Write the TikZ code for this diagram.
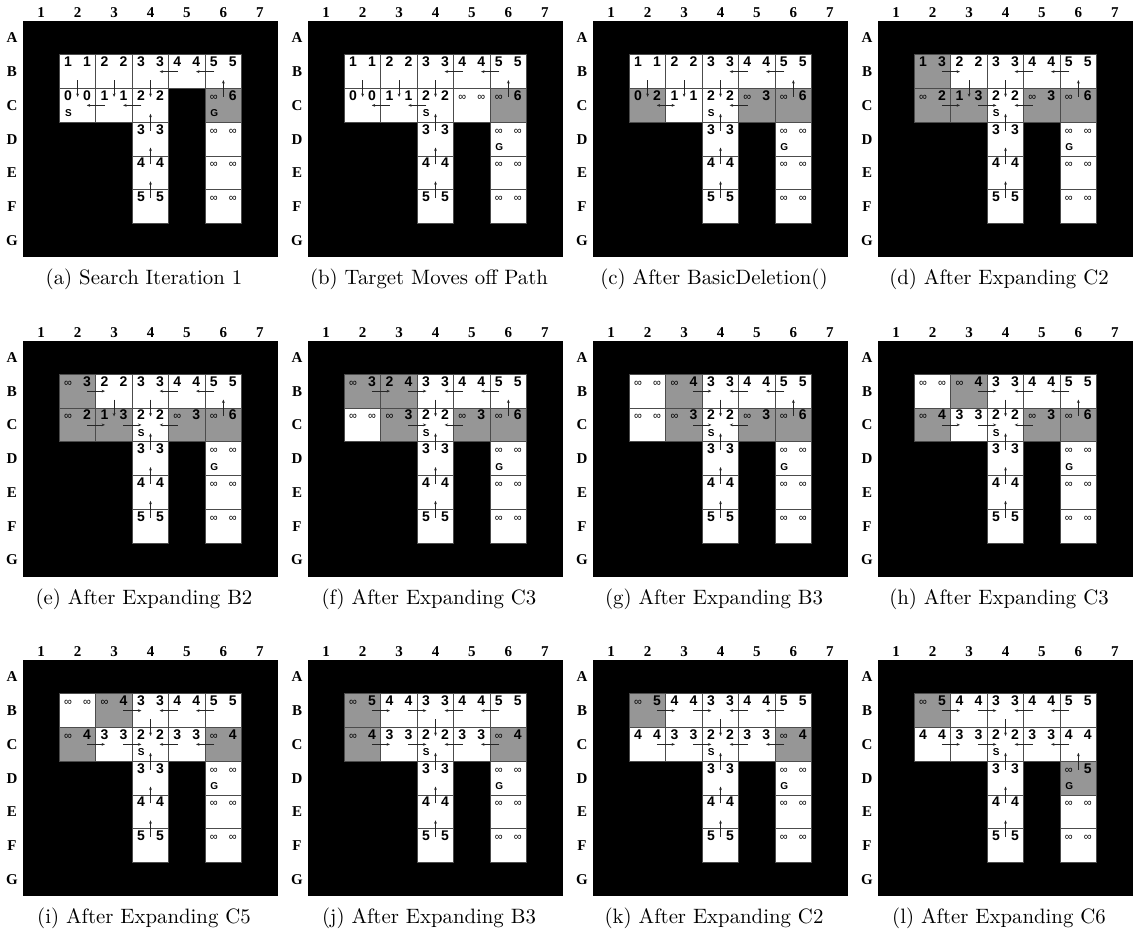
\documentclass[tikz,border=0pt]{standalone}
\usepackage{fontspec}
\usetikzlibrary{calc,arrows.meta}
\newfontfamily\valfont{Liberation Sans}
\newfontfamily\lblfont{Liberation Serif}
\definecolor{cg}{RGB}{150,150,150}
\newcommand\infy{{\fontsize{11}{11}\selectfont\mdseries ∞}}
\tikzset{
  cellbox/.style={draw=black!70, line width=0.9pt, minimum width=36.43pt, minimum height=33.75pt, inner sep=0pt, outer sep=0pt},
  bgbox/.style={fill=black, minimum width=255pt, minimum height=236pt, inner sep=0pt, outer sep=0pt},
  valtxt/.style={font=\valfont\fontsize{14}{14}\selectfont\bfseries, inner sep=0pt, anchor=base},
  labtxt/.style={font=\valfont\fontsize{10}{10}\selectfont\bfseries, inner sep=0pt},
  collbl/.style={font=\lblfont\fontsize{15}{15}\selectfont\bfseries, inner sep=0pt},
  captxt/.style={font=\rmfamily\fontsize{10}{12}\selectfont, inner sep=0pt},
  parr/.style={-{Stealth[length=3.4pt,width=2.8pt]}, line width=0.6pt, draw=black!85},
  dparr/.style={{Stealth[length=3.4pt,width=2.8pt]}-{Stealth[length=3.4pt,width=2.8pt]}, line width=0.6pt, draw=black!85}
}
\newcommand\panel[4]{%
  \def\pp{#1}\def\X{#2}\def\Y{#3}%
  \node[bgbox] (#1bg) at (#2+127.5,#3+118) {};
  \foreach \ci in {1,...,7} {\node[collbl] (#1col\ci) at ({#2+(\ci-0.5)*36.43},#3-8) {\ci};}
  \foreach \ri/\rl in {1/A,2/B,3/C,4/D,5/E,6/F,7/G} {\node[collbl] (#1row\rl) at (#2-11,{#3+(\ri-0.5)*33.75}) {\rl};}
  \node[captxt] (#1cap) at (#2+121,#3+258.5) {\scalebox{2.08}{(#1) #4}};
}
\newcommand\cell[7]{%
  \node[cellbox,fill=#4] (\pp#1) at ({\X+(#3-0.5)*36.43},{\Y+(#2-0.5)*33.75}) {};
  \node[valtxt] (\pp#1g) at ($(\pp#1)+(-9.6,-4.9)$) {#5};
  \node[valtxt] (\pp#1r) at ($(\pp#1)+(9.4,-4.9)$) {#6};
  \node[labtxt] (\pp#1s) at ($(\pp#1)+(-9.2,8.1)$) {#7};
}
\newcommand\arr[2]{\draw[parr] ($(\pp#1)!0.25!(\pp#2)$) -- ($(\pp#1)!0.75!(\pp#2)$);}
\newcommand\darr[2]{\draw[dparr] ($(\pp#1)!0.25!(\pp#2)$) -- ($(\pp#1)!0.75!(\pp#2)$);}
\newcommand\basecells{%
  \cell{B4}{2}{4}{white}{3}{3}{}%
  \cell{B5}{2}{5}{white}{4}{4}{}%
  \cell{B6}{2}{6}{white}{5}{5}{}%
  \cell{D4}{4}{4}{white}{3}{3}{}%
  \cell{E4}{5}{4}{white}{4}{4}{}%
  \cell{F4}{6}{4}{white}{5}{5}{}%
  \cell{E6}{5}{6}{white}{\infy}{\infy}{}%
  \cell{F6}{6}{6}{white}{\infy}{\infy}{}%
}
\newcommand\basearrows{\arr{B4}{C4}\arr{B5}{B4}\arr{B6}{B5}\arr{D4}{C4}\arr{E4}{D4}\arr{F4}{E4}}
\begin{document}
\begin{tikzpicture}[x=1pt,y=-1pt]
\useasboundingbox (0,0) rectangle (1133,940);
% (a)
\panel{a}{23}{21}{Search Iteration 1}
\basecells
\cell{B2}{2}{2}{white}{1}{1}{}
\cell{B3}{2}{3}{white}{2}{2}{}
\cell{C2}{3}{2}{white}{0}{0}{S}
\cell{C3}{3}{3}{white}{1}{1}{}
\cell{C4}{3}{4}{white}{2}{2}{}
\cell{C6}{3}{6}{cg}{\infy}{6}{G}
\cell{D6}{4}{6}{white}{\infy}{\infy}{}
\basearrows
\arr{B2}{C2}\arr{B3}{C3}\arr{C3}{C2}\arr{C4}{C3}\arr{C6}{B6}
% (b)
\panel{b}{308}{21}{Target Moves off Path}
\basecells
\cell{B2}{2}{2}{white}{1}{1}{}
\cell{B3}{2}{3}{white}{2}{2}{}
\cell{C2}{3}{2}{white}{0}{0}{}
\cell{C3}{3}{3}{white}{1}{1}{}
\cell{C4}{3}{4}{white}{2}{2}{S}
\cell{C5}{3}{5}{white}{\infy}{\infy}{}
\cell{C6}{3}{6}{cg}{\infy}{6}{}
\cell{D6}{4}{6}{white}{\infy}{\infy}{G}
\basearrows
\arr{B2}{C2}\arr{B3}{C3}\arr{C3}{C2}\arr{C4}{C3}\arr{C6}{B6}
% (c)
\panel{c}{593}{21}{After BasicDeletion()}
\basecells
\cell{B2}{2}{2}{white}{1}{1}{}
\cell{B3}{2}{3}{white}{2}{2}{}
\cell{C2}{3}{2}{cg}{0}{2}{}
\cell{C3}{3}{3}{white}{1}{1}{}
\cell{C4}{3}{4}{white}{2}{2}{S}
\cell{C5}{3}{5}{cg}{\infy}{3}{}
\cell{C6}{3}{6}{cg}{\infy}{6}{}
\cell{D6}{4}{6}{white}{\infy}{\infy}{G}
\basearrows
\arr{B2}{C2}\arr{B3}{C3}\darr{C2}{C3}\arr{C5}{C4}\arr{C6}{B6}
% (d)
\panel{d}{878}{21}{After Expanding C2}
\basecells
\cell{B2}{2}{2}{cg}{1}{3}{}
\cell{B3}{2}{3}{white}{2}{2}{}
\cell{C2}{3}{2}{cg}{\infy}{2}{}
\cell{C3}{3}{3}{cg}{1}{3}{}
\cell{C4}{3}{4}{white}{2}{2}{S}
\cell{C5}{3}{5}{cg}{\infy}{3}{}
\cell{C6}{3}{6}{cg}{\infy}{6}{}
\cell{D6}{4}{6}{white}{\infy}{\infy}{G}
\basearrows
\arr{B2}{B3}\arr{B3}{C3}\arr{C2}{C3}\arr{C3}{C4}\arr{C5}{C4}\arr{C6}{B6}
% (e)
\panel{e}{23}{340.5}{After Expanding B2}
\basecells
\cell{B2}{2}{2}{cg}{\infy}{3}{}
\cell{B3}{2}{3}{white}{2}{2}{}
\cell{C2}{3}{2}{cg}{\infy}{2}{}
\cell{C3}{3}{3}{cg}{1}{3}{}
\cell{C4}{3}{4}{white}{2}{2}{S}
\cell{C5}{3}{5}{cg}{\infy}{3}{}
\cell{C6}{3}{6}{cg}{\infy}{6}{}
\cell{D6}{4}{6}{white}{\infy}{\infy}{G}
\basearrows
\arr{B2}{B3}\arr{B3}{C3}\arr{C2}{C3}\arr{C3}{C4}\arr{C5}{C4}\arr{C6}{B6}
% (f)
\panel{f}{308}{340.5}{After Expanding C3}
\basecells
\cell{B2}{2}{2}{cg}{\infy}{3}{}
\cell{B3}{2}{3}{cg}{2}{4}{}
\cell{C2}{3}{2}{white}{\infy}{\infy}{}
\cell{C3}{3}{3}{cg}{\infy}{3}{}
\cell{C4}{3}{4}{white}{2}{2}{S}
\cell{C5}{3}{5}{cg}{\infy}{3}{}
\cell{C6}{3}{6}{cg}{\infy}{6}{}
\cell{D6}{4}{6}{white}{\infy}{\infy}{G}
\basearrows
\arr{B2}{B3}\arr{B3}{B4}\arr{C3}{C4}\arr{C5}{C4}\arr{C6}{B6}
% (g)
\panel{g}{593}{340.5}{After Expanding B3}
\basecells
\cell{B2}{2}{2}{white}{\infy}{\infy}{}
\cell{B3}{2}{3}{cg}{\infy}{4}{}
\cell{C2}{3}{2}{white}{\infy}{\infy}{}
\cell{C3}{3}{3}{cg}{\infy}{3}{}
\cell{C4}{3}{4}{white}{2}{2}{S}
\cell{C5}{3}{5}{cg}{\infy}{3}{}
\cell{C6}{3}{6}{cg}{\infy}{6}{}
\cell{D6}{4}{6}{white}{\infy}{\infy}{G}
\basearrows
\arr{B3}{B4}\arr{C3}{C4}\arr{C5}{C4}\arr{C6}{B6}
% (h)
\panel{h}{878}{340.5}{After Expanding C3}
\basecells
\cell{B2}{2}{2}{white}{\infy}{\infy}{}
\cell{B3}{2}{3}{cg}{\infy}{4}{}
\cell{C2}{3}{2}{cg}{\infy}{4}{}
\cell{C3}{3}{3}{white}{3}{3}{}
\cell{C4}{3}{4}{white}{2}{2}{S}
\cell{C5}{3}{5}{cg}{\infy}{3}{}
\cell{C6}{3}{6}{cg}{\infy}{6}{}
\cell{D6}{4}{6}{white}{\infy}{\infy}{G}
\basearrows
\arr{B3}{B4}\arr{C2}{C3}\arr{C3}{C4}\arr{C5}{C4}\arr{C6}{B6}
% (i)
\panel{i}{23}{660}{After Expanding C5}
\basecells
\cell{B2}{2}{2}{white}{\infy}{\infy}{}
\cell{B3}{2}{3}{cg}{\infy}{4}{}
\cell{C2}{3}{2}{cg}{\infy}{4}{}
\cell{C3}{3}{3}{white}{3}{3}{}
\cell{C4}{3}{4}{white}{2}{2}{S}
\cell{C5}{3}{5}{white}{3}{3}{}
\cell{C6}{3}{6}{cg}{\infy}{4}{}
\cell{D6}{4}{6}{white}{\infy}{\infy}{G}
\basearrows
\arr{B3}{B4}\arr{C2}{C3}\arr{C3}{C4}\arr{C5}{C4}\arr{C6}{C5}
% (j)
\panel{j}{308}{660}{After Expanding B3}
\basecells
\cell{B2}{2}{2}{cg}{\infy}{5}{}
\cell{B3}{2}{3}{white}{4}{4}{}
\cell{C2}{3}{2}{cg}{\infy}{4}{}
\cell{C3}{3}{3}{white}{3}{3}{}
\cell{C4}{3}{4}{white}{2}{2}{S}
\cell{C5}{3}{5}{white}{3}{3}{}
\cell{C6}{3}{6}{cg}{\infy}{4}{}
\cell{D6}{4}{6}{white}{\infy}{\infy}{G}
\basearrows
\arr{B2}{B3}\arr{B3}{B4}\arr{C2}{C3}\arr{C3}{C4}\arr{C5}{C4}\arr{C6}{C5}
% (k)
\panel{k}{593}{660}{After Expanding C2}
\basecells
\cell{B2}{2}{2}{cg}{\infy}{5}{}
\cell{B3}{2}{3}{white}{4}{4}{}
\cell{C2}{3}{2}{white}{4}{4}{}
\cell{C3}{3}{3}{white}{3}{3}{}
\cell{C4}{3}{4}{white}{2}{2}{S}
\cell{C5}{3}{5}{white}{3}{3}{}
\cell{C6}{3}{6}{cg}{\infy}{4}{}
\cell{D6}{4}{6}{white}{\infy}{\infy}{G}
\basearrows
\arr{B2}{B3}\arr{B3}{B4}\arr{C2}{C3}\arr{C3}{C4}\arr{C5}{C4}\arr{C6}{C5}
% (l)
\panel{l}{878}{660}{After Expanding C6}
\basecells
\cell{B2}{2}{2}{cg}{\infy}{5}{}
\cell{B3}{2}{3}{white}{4}{4}{}
\cell{C2}{3}{2}{white}{4}{4}{}
\cell{C3}{3}{3}{white}{3}{3}{}
\cell{C4}{3}{4}{white}{2}{2}{S}
\cell{C5}{3}{5}{white}{3}{3}{}
\cell{C6}{3}{6}{white}{4}{4}{}
\cell{D6}{4}{6}{cg}{\infy}{5}{G}
\basearrows
\arr{B2}{B3}\arr{B3}{B4}\arr{C2}{C3}\arr{C3}{C4}\arr{C5}{C4}\arr{C6}{C5}\arr{D6}{C6}
\end{tikzpicture}
\end{document}
